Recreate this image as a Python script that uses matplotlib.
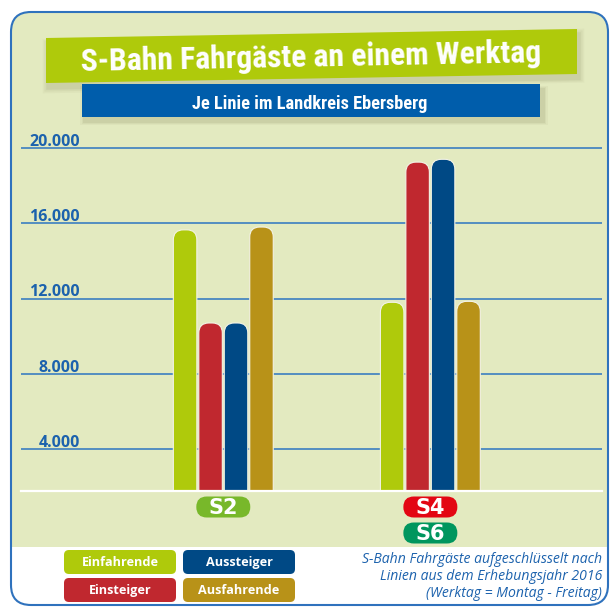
import matplotlib
matplotlib.use("Agg")
import matplotlib.pyplot as plt
import numpy as np
from matplotlib import font_manager
from matplotlib.patches import FancyBboxPatch, Polygon, Rectangle

# data
lines = ["S2", "S4"]
badges = [["S2"], ["S4", "S6"]]
series = ["Einfahrende", "Einsteiger", "Aussteiger", "Ausfahrende"]
einfahrende = [15650, 11800]
einsteiger = [10700, 19250]
aussteiger = [10700, 19400]
ausfahrende = [15800, 11850]
yticks = [4000, 8000, 12000, 16000, 20000]
ytick_labels = ["4.000", "8.000", "12.000", "16.000", "20.000"]
title = "S-Bahn Fahrgäste an einem Werktag"
subtitle = "Je Linie im Landkreis Ebersberg"
note_lines = [
    "S-Bahn Fahrgäste aufgeschlüsselt nach",
    "Linien aus dem Erhebungsjahr 2016",
    "(Werktag = Montag - Freitag)",
]

BG = "#e3eac0"
series_colors = ["#afca0b", "#c0282f", "#004985", "#b89218"]
badge_colors = {"S2": "#78b82a", "S4": "#e30613", "S6": "#00965e"}
GRID = "#3b7fc0"
LABEL = "#1c62ad"
BANNER_GREEN = "#afca0b"
BANNER_BLUE = "#005dab"


def pick_font(cands):
    for c in cands:
        try:
            font_manager.findfont(font_manager.FontProperties(family=c),
                                  fallback_to_default=False)
            return c
        except ValueError:
            pass
    return "DejaVu Sans"


def pick_condensed():
    # a narrow bold face if one is installed, else the narrowest normal one
    cands = [("Liberation Sans Narrow", "normal"), ("Roboto Condensed", "normal"),
             ("Noto Sans Condensed", "normal"), ("Open Sans Condensed", "normal"),
             ("Noto Sans", "condensed"), ("DejaVu Sans", "condensed"),
             ("Open Sans", "condensed"), ("Roboto", "condensed")]
    for fam, stretch in cands:
        fp = font_manager.FontProperties(family=fam, weight="bold", stretch=stretch)
        try:
            path = font_manager.findfont(fp, fallback_to_default=False)
        except ValueError:
            continue
        low = path.lower()
        if "narrow" in low or "condensed" in low:
            return fp
    return font_manager.FontProperties(family=pick_font(["Roboto", "DejaVu Sans"]),
                                       weight="bold")


cond = pick_condensed()
sans = pick_font(["Open Sans", "Noto Sans", "DejaVu Sans"])

W, H = 610, 607
fig = plt.figure(figsize=(W / 100, H / 100), dpi=100)
fig.patch.set_facecolor("white")
renderer = fig.canvas.get_renderer()

# background layer in pixel coordinates
bg = fig.add_axes([0, 0, 1, 1])
bg.set_xlim(0, W)
bg.set_ylim(H, 0)
bg.axis("off")

panel = FancyBboxPatch((11, 12), 597, 593, boxstyle="round,pad=0,rounding_size=20",
                       fc="white", ec="none", zorder=0)
bg.add_patch(panel)
green = Rectangle((0, 0), W, 547, fc=BG, ec="none", zorder=0.5)
bg.add_patch(green)
green.set_clip_path(panel)
bg.add_patch(FancyBboxPatch((11, 12), 597, 593, boxstyle="round,pad=0,rounding_size=20",
                            fc="none", ec="#2f72bd", lw=1.5, zorder=1))


def shadow(pts, dx, dy):
    pts = np.array(pts, dtype=float)
    for k, a in [(6, 0.04), (4, 0.05), (2, 0.07)]:
        c = pts.mean(axis=0)
        grown = c + (pts - c) * [1 + k / 300, 1 + k / 30]
        bg.add_patch(Polygon(grown + [dx, dy], closed=True, fc="#4a4a20",
                             ec="none", alpha=a, zorder=1.5))


green_pts = [(46, 38), (577, 29), (577, 74), (46, 83)]
blue_pts = [(82, 84), (540, 84), (540, 117), (82, 117)]
shadow(green_pts, 2, 5)
bg.add_patch(Polygon(green_pts, closed=True, fc=BANNER_GREEN, ec="none", zorder=2))
shadow(blue_pts, 3, 5)
bg.add_patch(Polygon(blue_pts, closed=True, fc=BANNER_BLUE, ec="none", zorder=3))

t = bg.text(311, 67, title, rotation=1.1, rotation_mode="anchor", ha="center",
            va="baseline", color="white", fontproperties=cond, zorder=4)
t.set_fontsize(22)
t.set_fontsize(22 * 460 / t.get_window_extent(renderer).width)
st = bg.text(310, 109, subtitle, ha="center", va="baseline", color="white",
             fontproperties=cond, zorder=4)
st.set_fontsize(13)
st.set_fontsize(13 * 234 / st.get_window_extent(renderer).width)

# chart axes
ax_l, ax_r, ax_t, ax_b = 21, 602, 129.2, 491
ax = fig.add_axes([ax_l / W, 1 - ax_b / H, (ax_r - ax_l) / W, (ax_b - ax_t) / H])
ax.set_facecolor("none")
ax.set_xlim(-0.977, 1.829)
ax.set_ylim(1770, 21000)
ax.axis("off")

for tk in yticks:
    ax.axhline(tk, color=GRID, lw=1.2, zorder=1)
ax.axhline(1770, color="white", lw=1.6, zorder=4, clip_on=False)

tick_texts = []
for tk, lbl in zip(yticks, ytick_labels):
    tt = ax.annotate(lbl, xy=(0.1015, tk), xycoords=("axes fraction", "data"),
                     xytext=(0, 1.5), textcoords="offset points", ha="right",
                     va="baseline", color=LABEL, fontweight="bold", family=sans,
                     fontsize=11)
    tick_texts.append(tt)
ts = 11 * 50 / tick_texts[-1].get_window_extent(renderer).width
for tt in tick_texts:
    tt.set_fontsize(ts)

x = np.arange(len(lines))
width = 0.1135
step = 0.123
x_per_px = (ax.get_xlim()[1] - ax.get_xlim()[0]) / (ax_r - ax_l)
y_per_px = (ax.get_ylim()[1] - ax.get_ylim()[0]) / (ax_b - ax_t)
aspect = y_per_px / x_per_px
values = [einfahrende, einsteiger, aussteiger, ausfahrende]
for i, (name, vals, col) in enumerate(zip(series, values, series_colors)):
    bars = ax.bar(x + (i - 1.5) * step, vals, width, color=col)
    for rect in bars.patches:
        rb = FancyBboxPatch((rect.get_x(), 0), rect.get_width(), rect.get_height(),
                            boxstyle=f"round,pad=0,rounding_size={10 * x_per_px}",
                            mutation_aspect=aspect, fc=col, ec="#f3f3e6", lw=0.8,
                            zorder=3)
        ax.add_patch(rb)
        rect.remove()

# line badges under each group
to_bg = bg.transData.inverted()
for xi, names in zip(x, badges):
    px = to_bg.transform(ax.transData.transform((xi, 1770)))
    for j, nm in enumerate(names):
        cy = px[1] + 16 + 26 * j
        bg.add_patch(FancyBboxPatch((px[0] - 27, cy - 10.5), 54, 21,
                                    boxstyle="round,pad=0,rounding_size=10.5",
                                    fc=badge_colors[nm], ec="none", zorder=2))
        bg.text(px[0], cy + 7.5, nm, ha="center", va="baseline", color="white",
                fontweight="bold", family="DejaVu Sans", fontsize=15, zorder=3)

# legend pills
pill_pos = {"Einfahrende": (64, 550), "Aussteiger": (183, 550),
            "Einsteiger": (64, 578), "Ausfahrende": (183, 578)}
leg_texts = []
for name, col in zip(series, series_colors):
    px0, py0 = pill_pos[name]
    bg.add_patch(FancyBboxPatch((px0, py0), 112, 24,
                                boxstyle="round,pad=0,rounding_size=5",
                                fc=col, ec="none", zorder=2))
    lt = bg.text(px0 + 56, py0 + 12.5, name, ha="center", va="center",
                 color="white", fontweight="bold", family=sans, fontsize=10,
                 zorder=3)
    leg_texts.append(lt)
ls = 10 * 77 / leg_texts[0].get_window_extent(renderer).width
for lt in leg_texts:
    lt.set_fontsize(ls)

note_texts = []
for k, ln in enumerate(note_lines):
    nt = bg.text(602, 563 + 17 * k, ln, ha="right", va="baseline", color=LABEL,
                 style="italic", family=sans, fontsize=10, zorder=3)
    note_texts.append(nt)
ns = 10 * 241 / note_texts[0].get_window_extent(renderer).width
for nt in note_texts:
    nt.set_fontsize(ns)

fig.savefig("out.png", dpi=100)
